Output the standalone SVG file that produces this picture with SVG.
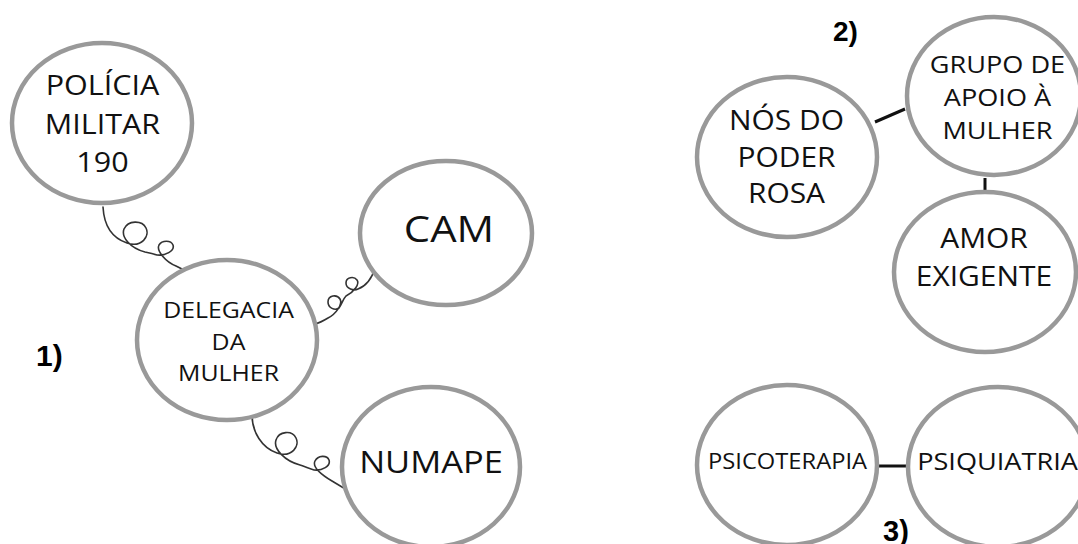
<svg xmlns="http://www.w3.org/2000/svg" width="1078" height="544" viewBox="0 0 1078 544">
<style>
.node ellipse{fill:#fff;stroke:#999;stroke-width:4.5}
.node text{font-family:"Open Sans","Liberation Sans",sans-serif;fill:#111;text-anchor:middle}
.curl{fill:none;stroke:#333;stroke-width:1.6;stroke-linecap:round;stroke-linejoin:round}
.line{fill:none;stroke:#111;stroke-width:3}
.num{font-family:"Liberation Sans",Arial,sans-serif;font-weight:bold;fill:#000}
</style>
<rect width="1078" height="544" fill="#fff"/>
<g id="connectors">
<path class="curl" d="M103,207 C104,225 112,238 127,243 C142,248 150,236 146,228 C142,220 128,220 124,229 C121,237 130,248 145,252 C150,253 154,254 157,255 C165,256 175,251 173,245 C171,240 162,240 159,245 C156,251 166,262 176,266 C180,268 184,270 188,272"/>
<path class="curl" d="M375,268 C372,278 366,286 358,289 C354,291 346,289 346,283 C346,277 354,276 357,280 C360,284 354,292 346,296 C343,299 342,304 339,308 C335,311 328,308 328,302 C328,295 337,294 340,299 C343,304 336,314 328,318 C323,321 319,323 315,324"/>
<path class="curl" d="M252,415 C252,432 262,448 277,453 C292,458 300,446 296,438 C292,430 279,431 276,440 C273,449 285,461 300,465 C306,467 310,469 314,470 C322,471 331,466 329,460 C327,455 318,455 315,461 C312,467 322,475 332,481 C337,484 342,487 347,490"/>
<path class="line" d="M875,122 L905,109"/>
<path class="line" d="M985,178 L985,190"/>
<path class="line" d="M879,466 L906,466"/>
</g>
<g id="policia" class="node">
<ellipse cx="102" cy="123" rx="90" ry="80"/>
<g transform="translate(102.5,0) scale(1.13,1)" font-size="27">
<text x="0" y="95">POLÍCIA</text>
<text x="0" y="134">MILITAR</text>
<text x="0" y="172">190</text>
</g>
</g>
<g id="delegacia" class="node">
<ellipse cx="227" cy="340" rx="90" ry="80"/>
<g transform="translate(228.5,0) scale(1.13,1)" font-size="22">
<text x="0" y="318">DELEGACIA</text>
<text x="0" y="350">DA</text>
<text x="0" y="381">MULHER</text>
</g>
</g>
<g id="cam" class="node">
<ellipse cx="446" cy="233" rx="86" ry="72"/>
<g transform="translate(449,0) scale(1.13,1)" font-size="37">
<text x="0" y="242">CAM</text>
</g>
</g>
<g id="numape" class="node">
<ellipse cx="431" cy="467" rx="89" ry="80"/>
<g transform="translate(431,0) scale(1.13,1)" font-size="30.5">
<text x="0" y="473">NUMAPE</text>
</g>
</g>
<g id="nos" class="node">
<ellipse cx="787" cy="157" rx="90" ry="80"/>
<g transform="translate(786.5,0) scale(1.13,1)" font-size="26.5">
<text x="0" y="130">NÓS DO</text>
<text x="0" y="167">PODER</text>
<text x="0" y="203">ROSA</text>
</g>
</g>
<g id="grupo" class="node">
<ellipse cx="994" cy="96" rx="87" ry="79"/>
<g transform="translate(997.5,0) scale(1.13,1)" font-size="24">
<text x="0" y="73">GRUPO DE</text>
<text x="0" y="106">APOIO À</text>
<text x="0" y="139">MULHER</text>
</g>
</g>
<g id="amor" class="node">
<ellipse cx="985" cy="272" rx="91" ry="80"/>
<g transform="translate(984,0) scale(1.13,1)" font-size="26.5">
<text x="0" y="248">AMOR</text>
<text x="0" y="286">EXIGENTE</text>
</g>
</g>
<g id="psicoterapia" class="node">
<ellipse cx="787" cy="465" rx="90" ry="80"/>
<g transform="translate(787.5,0) scale(1.13,1)" font-size="21">
<text x="0" y="469">PSICOTERAPIA</text>
</g>
</g>
<g id="psiquiatria" class="node">
<ellipse cx="998" cy="467" rx="90" ry="80"/>
<g transform="translate(997.5,0) scale(1.13,1)" font-size="24">
<text x="0" y="470">PSIQUIATRIA</text>
</g>
</g>
<text class="num" x="36" y="366" font-size="30">1)</text>
<text class="num" x="833" y="41" font-size="28">2)</text>
<text class="num" x="883" y="541" font-size="29">3)</text>
</svg>
